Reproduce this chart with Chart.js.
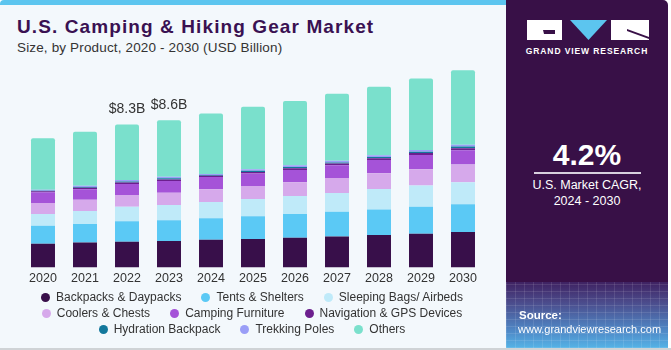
<!DOCTYPE html>
<html>
<head>
<meta charset="utf-8">
<script src="https://cdn.jsdelivr.net/npm/chart.js@4"></script>
<style>
  html, body { margin: 0; padding: 0; }
  body { width: 671px; height: 350px; position: relative; overflow: hidden; background: #fff;
         font-family: "Liberation Sans", Arial, sans-serif; }
  #left { position: absolute; left: 0; top: 0; width: 506px; height: 348px; background: #f3f8fc;
          border-top: 5px solid #5cc5ef; box-sizing: border-box; border-radius: 4px 0 0 0; }
  #bottomline { position: absolute; left: 0; top: 348px; width: 671px; height: 2px; background: #cfd3d6; }
  #title { position: absolute; left: 17px; top: 16px; font-size: 19px; letter-spacing: 1.1px; font-weight: bold; color: #3a1152; white-space: nowrap; }
  #subtitle { position: absolute; left: 17px; top: 40px; font-size: 13.5px; letter-spacing: 0.15px; color: #333; white-space: nowrap; }
  #chart { position: absolute; left: 0; top: 0; }
  #legend { position: absolute; left: 0; top: 289px; width: 504px; font-size: 12px; color: #333; }
  .lrow { display: flex; justify-content: center; height: 16px; line-height: 16px; }
  .litem { display: flex; align-items: center; margin: 0 10px; white-space: nowrap; }
  .dot { width: 9px; height: 9px; border-radius: 50%; margin-right: 6px; }
  #panel { position: absolute; left: 506px; top: 0; width: 162px; height: 348px; background: #381047;
           border-radius: 0 5px 0 0; overflow: hidden; }
  #texture { position: absolute; left: 0; top: 282px; width: 162px; height: 66px;
             background:
               repeating-linear-gradient(90deg, rgba(255,255,255,0.10) 0 1px, transparent 1px 9px),
               repeating-linear-gradient(0deg, rgba(255,255,255,0.10) 0 1px, transparent 1px 7px),
               linear-gradient(180deg, #3f2262 0%, #4b4a8a 30%, #4f8ac8 75%, #55b3e6 100%); }
  .pt { position: absolute; left: 0; width: 162px; text-align: center; color: #fff; }
</style>
</head>
<body>
<div id="left"></div>
<div id="bottomline"></div>
<div id="title">U.S. Camping &amp; Hiking Gear Market</div>
<div id="subtitle">Size, by Product, 2020 - 2030 (USD Billion)</div>
<canvas id="chart" width="506" height="300"></canvas>
<div id="legend"></div>

<div id="panel">
  <div id="texture"></div>
  <svg style="position:absolute;left:21px;top:20px" width="122" height="20">
    <rect x="0" y="0" width="35" height="20" fill="#fff"/>
    <path d="M16 10 H28 V14 H17 Z" fill="#381047"/>
    <polygon points="43,0 80,0 61.5,20" fill="#5cc5ef"/>
    <rect x="84" y="0" width="38" height="20" fill="#fff"/>
    <path d="M100 9 L122 17 L122 19 L100 11 Z" fill="#381047"/>
  </svg>
  <div class="pt" style="top:46px;font-size:8.5px;font-weight:bold;letter-spacing:0.9px;">GRAND VIEW RESEARCH</div>
  <div class="pt" style="top:138px;font-size:30px;font-weight:bold;">4.2%</div>
  <div style="position:absolute;left:28px;top:172px;width:107px;height:1.5px;background:#d8d0de;"></div>
  <div class="pt" style="top:177px;font-size:12.5px;line-height:16px;">U.S. Market CAGR,<br>2024 - 2030</div>
  <div style="position:absolute;left:13px;top:309px;color:#fff;font-size:11.5px;font-weight:bold;">Source:</div>
  <div style="position:absolute;left:12px;top:323px;color:#fff;font-size:11px;">www.grandviewresearch.com</div>
</div>

<script>
// ======================= DATA ==========================
const years = ['2020','2021','2022','2023','2024','2025','2026','2027','2028','2029','2030'];

const backpacks  = [1.39,1.46,1.50,1.54,1.62,1.66,1.73,1.81,1.89,1.97,2.06];
const tents      = [1.04,1.08,1.20,1.21,1.25,1.33,1.39,1.43,1.48,1.56,1.62];
const sleeping   = [0.69,0.75,0.83,0.89,0.94,1.00,1.04,1.10,1.20,1.25,1.29];
const coolers    = [0.64,0.65,0.69,0.71,0.75,0.75,0.81,0.87,0.92,0.94,1.02];
const furniture  = [0.62,0.62,0.64,0.69,0.71,0.73,0.71,0.75,0.77,0.83,0.84];
const navigation = [0.06,0.08,0.09,0.09,0.07,0.09,0.10,0.09,0.10,0.11,0.12];
const hydration  = [0.03,0.04,0.06,0.06,0.04,0.07,0.07,0.07,0.08,0.08,0.09];
const trekking   = [0.05,0.08,0.09,0.10,0.06,0.09,0.10,0.09,0.09,0.10,0.10];
const others     = [3.00,3.14,3.22,3.29,3.53,3.64,3.74,3.90,3.99,4.16,4.35];

const totalLabels = ['','','$8.3B','$8.6B','','','','','','',''];

// ======================= DATASETS ======================
const series = [
    ['Backpacks & Daypacks', backpacks, '#380f4a'],
    ['Tents & Shelters', tents, '#5bc9f5'],
    ['Sleeping Bags/ Airbeds', sleeping, '#bfeaf9'],
    ['Coolers & Chests', coolers, '#d6a9eb'],
    ['Camping Furniture', furniture, '#a553d8'],
    ['Navigation & GPS Devices', navigation, '#6c1f8e'],
    ['Hydration Backpack', hydration, '#13789c'],
    ['Trekking Poles', trekking, '#9a9ef7'],
    ['Others', others, '#7ae0cc']
];

const datasets = series.map(s => ({
    label: s[0],
    data: s[1],
    backgroundColor: s[2],
    borderWidth: 0,
    borderRadius: s[0] === 'Others' ? {topLeft: 2, topRight: 2} : 0,
    borderSkipped: false,
    barPercentage: 0.571,
    categoryPercentage: 1
}));

// labels on top of some stacks
const totalsPlugin = {
    id: 'totals',
    afterDatasetsDraw(chart) {
        const ctx = chart.ctx;
        const meta = chart.getDatasetMeta(chart.data.datasets.length - 1);
        ctx.save();
        ctx.font = '14px "Liberation Sans", Arial, sans-serif';
        ctx.fillStyle = '#333';
        ctx.textAlign = 'center';
        ctx.textBaseline = 'middle';
        meta.data.forEach((bar, i) => {
            if (totalLabels[i]) ctx.fillText(totalLabels[i], bar.x, bar.y - 15);
        });
        ctx.restore();
    }
};

// ======================= CHART =========================
const chart = new Chart(document.getElementById('chart'), {
    type: 'bar',
    data: { labels: years, datasets: datasets },
    options: {
        responsive: false,
        animation: false,
        layout: { padding: { left: 22, right: 22, top: 61.4, bottom: 9.5 } },
        plugins: { legend: { display: false }, tooltip: { enabled: false } },
        scales: {
            x: {
                stacked: true,
                grid: { display: false, drawTicks: false },
                border: { display: false },
                ticks: { color: '#333', padding: 4, font: { size: 12.5, family: '"Liberation Sans", Arial, sans-serif' } }
            },
            y: { stacked: true, display: false, min: 0, max: 12 }
        }
    },
    plugins: [totalsPlugin]
});

// ======================= LEGEND ========================
const legend = document.getElementById('legend');
for (let r = 0; r < 3; r++) {
    const row = document.createElement('div');
    row.className = 'lrow';
    series.slice(r * 3, r * 3 + 3).forEach(s => {
        row.innerHTML += `<div class="litem"><span class="dot" style="background:${s[2]}"></span>${s[0]}</div>`;
    });
    legend.appendChild(row);
}
</script>
</body>
</html>
